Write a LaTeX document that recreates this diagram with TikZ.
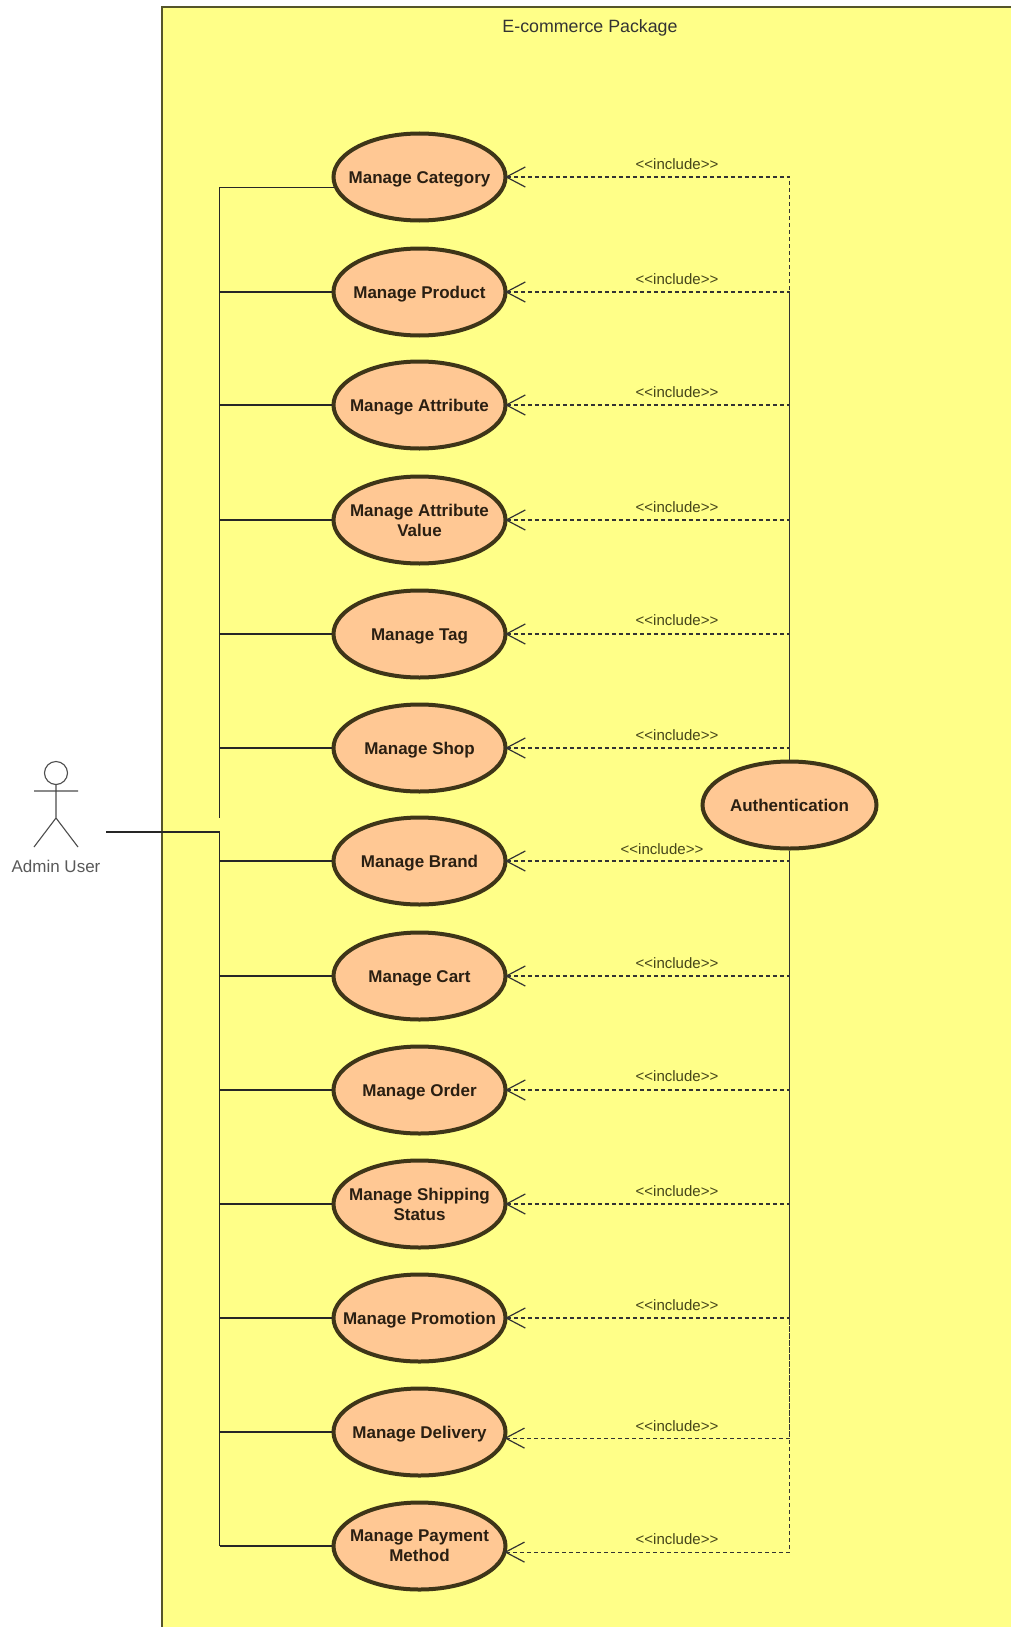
\documentclass[tikz,border=0pt]{standalone}
\usepackage{fontspec}
\setmainfont{Liberation Sans}
\usetikzlibrary{shapes.geometric,arrows.meta}
\definecolor{pkgfill}{HTML}{FFFF88}
\definecolor{pkgline}{HTML}{55552A}
\definecolor{ucfill}{HTML}{FFC894}
\definecolor{ucline}{HTML}{3E3518}
\definecolor{txt}{HTML}{2A1F12}
\definecolor{inctxt}{HTML}{45451A}
\tikzset{
  x=1pt,y=-1pt,
  usecase/.style={ellipse,draw=ucline,fill=ucfill,line width=4pt,minimum width=172pt,minimum height=87pt,inner xsep=-30pt,inner ysep=-12pt,align=center,text=txt,font=\fontsize{17}{20}\selectfont\bfseries},
  oneline/.style={text height=14.5pt,text depth=1.5pt},
  twolines/.style={},
  assoc/.style={line width=1.5pt,draw=black!85},
  incl/.style={line width=1.1pt,draw=black!80,dash pattern=on 4pt off 3pt,shorten <=-2.5pt,{Straight Barb[length=19pt,width=20pt,line width=1.2pt,sep=0pt]}-},
  incllabel/.style={font=\fontsize{15}{17}\selectfont,text=inctxt,inner sep=0pt},
  actorline/.style={line width=1.1pt,draw=black!70}
}
\begin{document}
\begin{tikzpicture}
\useasboundingbox (0,0) rectangle (1011,1627);
\fill[white] (0,0) rectangle (1011,1627);
\path[fill=pkgfill] (162,7) rectangle (1011,1627);
\draw[pkgline,line width=1.2pt] (1011,7) -- (162,7) -- (162,1627);
\node[font=\fontsize{17.8}{20}\selectfont,text=black!80,inner sep=0pt] (pkg) at (590,27.5) {E-commerce Package};

\coordinate (busA) at (219.5,818);
\coordinate (busB) at (219.5,832);
\coordinate (busC) at (219.5,1546);

\foreach \n/\y/\s/\t in {
  cat/177/oneline/Manage Category,
  prod/292/oneline/Manage Product,
  attr/405/oneline/Manage Attribute,
  attrv/520/twolines/{Manage Attribute\\Value},
  tagg/634/oneline/Manage Tag,
  shop/748/oneline/Manage Shop,
  brand/861/oneline/Manage Brand,
  cart/976/oneline/Manage Cart,
  order/1090/oneline/Manage Order,
  ship/1204/twolines/{Manage Shipping\\Status},
  promo/1318/oneline/Manage Promotion,
  deliv/1432/oneline/Manage Delivery,
  pay/1546/twolines/{Manage Payment\\Method}}
  { \node[usecase,\s] (\n) at (419.5,\y) {\t}; }

\node[usecase,oneline,minimum width=174pt] (auth) at (789.5,805) {Authentication};

% actor
\node[circle,draw=black!70,line width=1.1pt,minimum size=23pt,inner sep=0pt] (head) at (56,773) {};
\coordinate (hip) at (56,818);
\coordinate (armL) at (34,791);
\coordinate (armR) at (78,791);
\coordinate (footL) at (34,847);
\coordinate (footR) at (78,847);
\draw[actorline] (head.south) -- (hip) (armL) -- (armR) (footL) -- (hip) -- (footR);
\node[font=\fontsize{17}{20}\selectfont,text=black!65,inner sep=0pt] (actorlabel) at (56,866) {Admin User};
\coordinate (actorend) at (106,832);

% associations
\draw[assoc] (actorend) -- (busB) -- (busC);
\draw[assoc] (cat.187.4) -| (busA);
\foreach \n in {prod,attr,attrv,tagg,shop}
  { \draw[assoc] (\n.west) -- (\n.west -| busA); }
\foreach \n in {brand,cart,order,ship,promo,deliv,pay}
  { \draw[assoc] (\n.west) -- (\n.west -| busC); }

% includes
\foreach \n/\l in {cat/164,prod/279,attr/392,attrv/507,tagg/620,shop/735}
  { \draw[incl] (\n.east) -| (auth.north);
    \node[incllabel] (lab\n) at (677,\l) {<{}<include>{}>}; }
\foreach \n/\l/\x in {brand/849/662,cart/963/677,order/1076/677,ship/1191/677,promo/1305/677}
  { \draw[incl] (\n.east) -| (auth.south);
    \node[incllabel] (lab\n) at (\x,\l) {<{}<include>{}>}; }
\draw[incl] (deliv.-4.7) -| (auth.south);
\draw[incl] (pay.-4.7) -| (auth.south);
\node[incllabel] (labdeliv) at (677,1426) {<{}<include>{}>};
\node[incllabel] (labpay) at (677,1539) {<{}<include>{}>};
\end{tikzpicture}
\end{document}
